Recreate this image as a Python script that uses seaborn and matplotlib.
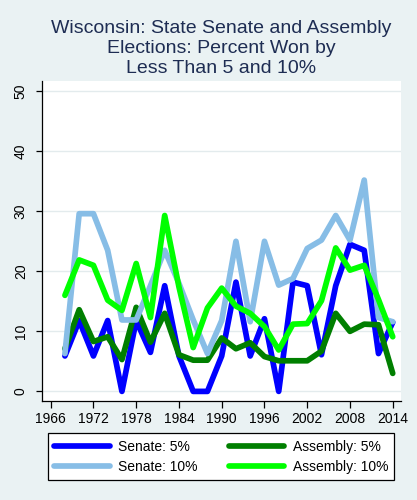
import matplotlib
matplotlib.use("Agg")
import matplotlib.pyplot as plt
import seaborn as sns
import pandas as pd
from matplotlib.lines import Line2D

years = list(range(1968, 2015, 2))
senate_5 = [5.9, 11.8, 5.9, 11.8, 0.0, 11.8, 6.5, 17.6, 5.9, 0.0, 0.0, 5.9,
            18.2, 5.9, 12.1, 0.0, 18.2, 17.6, 6.1, 17.6, 24.5, 23.5, 6.3, 11.5]
assembly_5 = [7.1, 13.6, 8.3, 9.1, 5.3, 14.0, 8.2, 13.0, 6.1, 5.2, 5.2, 8.9,
              7.1, 8.1, 5.8, 5.1, 5.1, 5.1, 6.7, 13.0, 10.0, 11.2, 11.1, 3.0]
senate_10 = [6.3, 29.6, 29.6, 23.5, 11.9, 11.9, 17.6, 23.5, 18.0, 11.9, 6.3, 11.8,
             25.0, 11.6, 25.0, 17.7, 18.8, 23.8, 25.2, 29.3, 25.2, 35.2, 12.3, 11.6]
assembly_10 = [16.0, 21.9, 21.0, 15.2, 13.5, 21.3, 12.3, 29.3, 17.4, 7.3, 13.9, 17.2,
               14.2, 13.0, 10.8, 6.9, 11.2, 11.3, 15.1, 23.9, 20.2, 21.0, 15.3, 9.1]

series_names = ["Senate: 5%", "Assembly: 5%", "Senate: 10%", "Assembly: 10%"]
series_values = [senate_5, assembly_5, senate_10, assembly_10]
colors = ["#0000FF", "#007F00", "#87BDE6", "#00FF00"]

x_ticks = list(range(1966, 2015, 6))
y_ticks = [0, 10, 20, 30, 40, 50]
title = "Wisconsin: State Senate and Assembly\nElections: Percent Won by\nLess Than 5 and 10%"

rows = []
for name, vals in zip(series_names, series_values):
    for yr, v in zip(years, vals):
        rows.append({"year": yr, "value": v, "series": name})
df = pd.DataFrame(rows)

sns.set_theme(style="white")
plt.rcParams["font.family"] = ["Liberation Sans", "DejaVu Sans"]

bg = "#EAF2F3"
fig = plt.figure(figsize=(4.17, 5.0), dpi=100, facecolor=bg)
ax = fig.add_axes([41.7 / 417, 1 - 401 / 500, (401 - 41.7) / 417, (401 - 81) / 500])
ax.set_facecolor("white")

lw = 4.1
sns.lineplot(data=df, x="year", y="value", hue="series", hue_order=series_names,
             palette=dict(zip(series_names, colors)), linewidth=lw, ax=ax,
             legend=False)
for ln in ax.get_lines():
    ln.set_solid_capstyle("round")
    ln.set_solid_joinstyle("round")

ax.set_xlim(1964.74, 2015.16)
ax.set_ylim(-1.6, 51.7)
ax.set_xticks(x_ticks)
ax.set_yticks(y_ticks)
ax.set_xlabel("")
ax.set_ylabel("")
ax.grid(axis="y", color="#E3EBED", linewidth=1.0)
ax.grid(axis="x", visible=False)
ax.set_axisbelow(True)

for s in ["top", "right"]:
    ax.spines[s].set_visible(False)
for s in ["left", "bottom"]:
    ax.spines[s].set_color("black")
    ax.spines[s].set_linewidth(0.9)

ax.tick_params(axis="x", direction="out", length=5, width=0.9, color="black",
               labelsize=10, labelcolor="black", pad=3, bottom=True)
ax.tick_params(axis="y", direction="out", length=4, width=0.9, color="black",
               labelsize=10, labelcolor="black", pad=6, left=True)
for t in ax.get_yticklabels():
    t.set_rotation(90)
    t.set_va("center")

cx = (41.7 + 401) / 2 / 417
fig.text(cx, 1 - 20 / 500, title, ha="center", va="top", fontsize=14,
         color="#1E2D53", linespacing=1.22)

handles = [Line2D([0], [0], color=c, lw=lw, solid_capstyle="round") for c in colors]
order = [0, 2, 1, 3]
leg = fig.legend([handles[i] for i in order], [series_names[i] for i in order],
                 ncol=2, loc="upper left",
                 bbox_to_anchor=(47.7 / 417, 1 - 433.3 / 500, (394.3 - 47.7) / 417, 0),
                 mode="expand", borderaxespad=0, frameon=True, fancybox=False,
                 edgecolor="black", facecolor="white", framealpha=1,
                 fontsize=10, handlelength=4.0, handletextpad=0.6,
                 labelspacing=0.45, borderpad=0.45, columnspacing=2.0)
leg.get_frame().set_linewidth(0.9)
for t in leg.get_texts():
    t.set_color("black")

fig.savefig("out.png", dpi=100, facecolor=bg)
